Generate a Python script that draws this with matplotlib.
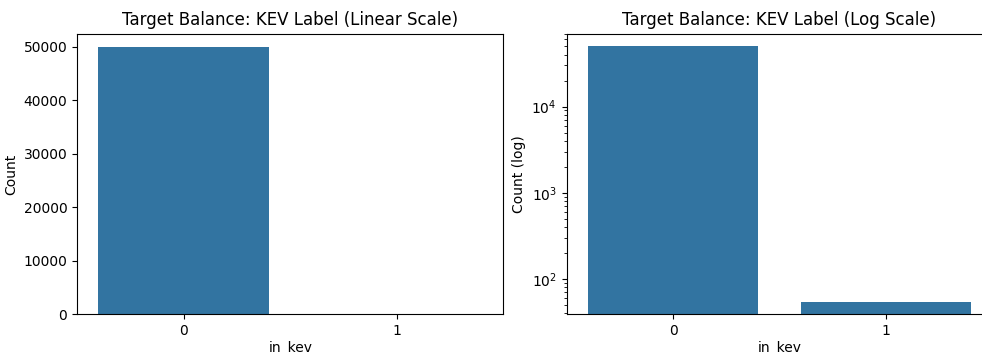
import matplotlib
matplotlib.use("Agg")
import matplotlib.pyplot as plt

categories = ["0", "1"]
counts = [49945, 55]

bar_color = "#3274a1"

fig = plt.figure(figsize=(9.82, 3.54), dpi=100)
W, H = 982, 354
top, bottom = 33.5, 314.3
ax1 = fig.add_axes([77 / W, 1 - bottom / H, (503.5 - 77) / W, (bottom - top) / H])
ax2 = fig.add_axes([566.5 / W, 1 - bottom / H, (992.5 - 566.5) / W, (bottom - top) / H])

x = range(len(categories))
ax1.bar(x, counts, width=0.8, color=bar_color)
ax1.set_xticks(list(x))
ax1.set_xticklabels(categories)
ax1.set_xlim(-0.5, 1.5)
ax1.set_title("Target Balance: KEV Label (Linear Scale)")
ax1.set_xlabel("in_kev", labelpad=2)
ax1.set_ylabel("Count")

ax2.bar(x, counts, width=0.8, color=bar_color)
ax2.set_yscale("log")
ax2.set_xticks(list(x))
ax2.set_xticklabels(categories)
ax2.set_xlim(-0.5, 1.5)
ax2.set_title("Target Balance: KEV Label (Log Scale)")
ax2.set_xlabel("in_kev", labelpad=2)
ax2.set_ylabel("Count (log)")

fig.savefig("out.png", dpi=100)
